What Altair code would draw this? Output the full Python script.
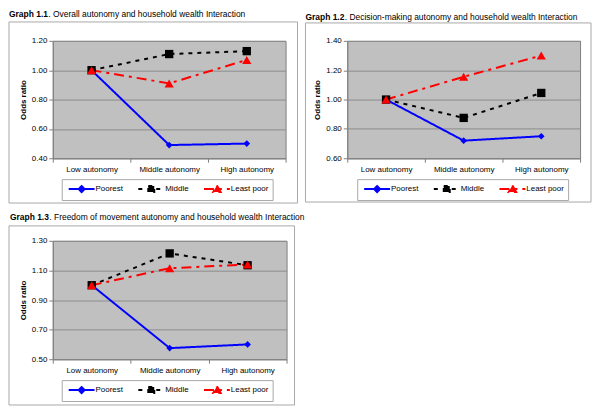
import altair as alt
import pandas as pd

FONT = "Liberation Sans"

categories = ["Low autonomy", "Middle autonomy", "High autonomy"]
series = ["Poorest", "Middle", "Least poor"]

g11_poorest = [1.00, 0.49, 0.50]
g11_middle = [1.00, 1.11, 1.13]
g11_least_poor = [1.00, 0.91, 1.07]

g12_poorest = [1.00, 0.72, 0.75]
g12_middle = [1.00, 0.875, 1.045]
g12_least_poor = [1.00, 1.155, 1.30]

g13_poorest = [1.00, 0.575, 0.60]
g13_middle = [1.00, 1.215, 1.135]
g13_least_poor = [1.00, 1.115, 1.14]

g11_ticks = [0.40, 0.60, 0.80, 1.00, 1.20]
g12_ticks = [0.60, 0.80, 1.00, 1.20, 1.40]
g13_ticks = [0.50, 0.70, 0.90, 1.10, 1.30]

g11_title = ["Graph 1.1", ". Overall autonomy and household wealth Interaction"]
g12_title = ["Graph 1.2", ". Decision-making autonomy and household wealth Interaction"]
g13_title = ["Graph 1.3", ". Freedom of movement autonomy and household wealth Interaction"]

colors = ["#0000FF", "#000000", "#FF0000"]
dashes = [[1, 0], [4, 5], [10, 5, 3, 5]]
point_shapes = ["diamond", "square", "triangle-up"]
point_sizes = [45, 70, 85]
legend_paths = [
    "M-2.6,0L2.6,0M0,-0.6L0.6,0L0,0.6L-0.6,0Z",
    "M-2.6,0L2.6,0M-0.6,-0.6L0.6,-0.6L0.6,0.6L-0.6,0.6Z",
    "M-2.6,0L2.6,0M0,-0.75L0.75,0.6L-0.75,0.6Z",
]


def panel(title, values, ticks, w, h, box, title_xy, legend_xy):
    rows = []
    for s, vals in zip(series, values):
        for c, v in zip(categories, vals):
            rows.append({"category": c, "series": s, "value": v})
    df = pd.DataFrame(rows)
    base = alt.Chart(df)

    x = alt.X(
        "category:N",
        sort=categories,
        bandPosition=0.5,
        scale=alt.Scale(type="band", paddingInner=0, paddingOuter=0),
        axis=alt.Axis(title=None, tickBand="extent", grid=False, tickSize=4,
                      tickColor="#808080", domainColor="#808080",
                      labelPadding=3, labelAngle=0),
    )
    y = alt.Y(
        "value:Q",
        scale=alt.Scale(domain=[ticks[0], ticks[-1]], nice=False, zero=False),
        axis=alt.Axis(values=ticks, format=".2f", title="Odds ratio",
                      titleFontWeight="bold", tickSize=4, tickColor="#808080",
                      domainColor="#808080", grid=True, gridColor="#8c8c8c",
                      labelPadding=2, titlePadding=4),
    )

    leg = alt.Legend(title=None, orient="none", legendX=legend_xy[0], legendY=legend_xy[1],
                     direction="horizontal", symbolSize=100, symbolStrokeWidth=2,
                     symbolOpacity=1,
                     labelFont=FONT, labelFontSize=8, labelColor="black",
                     strokeColor="#a8a8a8", padding=4, symbolOffset=10,
                     labelOffset=8, columnPadding=11)

    box_layer = alt.Chart(pd.DataFrame({"k": [0]})).mark_rect(
        fillOpacity=0, stroke="#a8a8a8", strokeWidth=1
    ).encode(x=alt.value(box[0]), x2=alt.value(box[1]),
             y=alt.value(box[2]), y2=alt.value(box[3]))

    t1 = alt.Chart(pd.DataFrame({"t": [title[0]]})).mark_text(
        font=FONT, fontSize=8.5, fontWeight="bold", align="left", baseline="alphabetic", color="black"
    ).encode(text="t:N", x=alt.value(title_xy[0]), y=alt.value(title_xy[1]))
    t2 = alt.Chart(pd.DataFrame({"t": [title[1]]})).mark_text(
        font=FONT, fontSize=8.5, align="left", baseline="alphabetic", color="black"
    ).encode(text="t:N", x=alt.value(title_xy[0] + 39.5), y=alt.value(title_xy[1]))

    line_layers = []
    pts = []
    for s, col, dsh, shp, sz in zip(series, colors, dashes, point_shapes, point_sizes):
        sub = base.transform_filter(alt.datum.series == s)
        line_layers.append(
            sub.mark_line(strokeWidth=2, color=col, strokeDash=dsh).encode(x=x, y=y)
        )
        pts.append(
            sub.mark_point(filled=True, shape=shp, size=sz, color=col, opacity=1).encode(x=x, y=y)
        )

    legend_layer = base.mark_point(
        filled=True, opacity=0, strokeWidth=2
    ).encode(
        x=x, y=y,
        fill=alt.Fill("series:N", scale=alt.Scale(domain=series, range=colors), legend=leg),
        stroke=alt.Stroke("series:N", scale=alt.Scale(domain=series, range=colors), legend=leg),
        shape=alt.Shape("series:N", scale=alt.Scale(domain=series, range=legend_paths), legend=leg),
        strokeDash=alt.StrokeDash("series:N", scale=alt.Scale(domain=series, range=dashes), legend=leg),
    )

    return alt.layer(box_layer, t1, t2, *line_layers, legend_layer, *pts).properties(width=w, height=h)


p1 = panel(g11_title, [g11_poorest, g11_middle, g11_least_poor], g11_ticks, 234, 118,
           (-44, 246, -19, 163), (-44, -24), (9, 139))
p2 = panel(g12_title, [g12_poorest, g12_middle, g12_least_poor], g12_ticks, 234, 118,
           (-42, 245, -18, 162), (-42, -20.5), (10, 139))
p3 = panel(g13_title, [g13_poorest, g13_middle, g13_least_poor], g13_ticks, 235, 119,
           (-44, 243, -15, 165), (-43, -21), (9, 140))

res_scale = dict(x="independent", y="independent", fill="independent",
                 stroke="independent", shape="independent", strokeDash="independent")
res_leg = dict(fill="independent", stroke="independent", shape="independent", strokeDash="independent")

chart = (
    alt.concat(p1, p2, p3, columns=2, bounds="flush", spacing={"row": 83, "column": 61})
    .resolve_scale(**res_scale)
    .resolve_legend(**res_leg)
    .properties(padding=0, background="white")
    .configure_view(fill="#C0C0C0", stroke="#808080", strokeWidth=1)
    .configure_axis(labelFont=FONT, titleFont=FONT, labelFontSize=8, titleFontSize=8,
                    labelColor="black", titleColor="black")
)

chart.save("out.html", embed_options={"renderer": "svg", "actions": False})
